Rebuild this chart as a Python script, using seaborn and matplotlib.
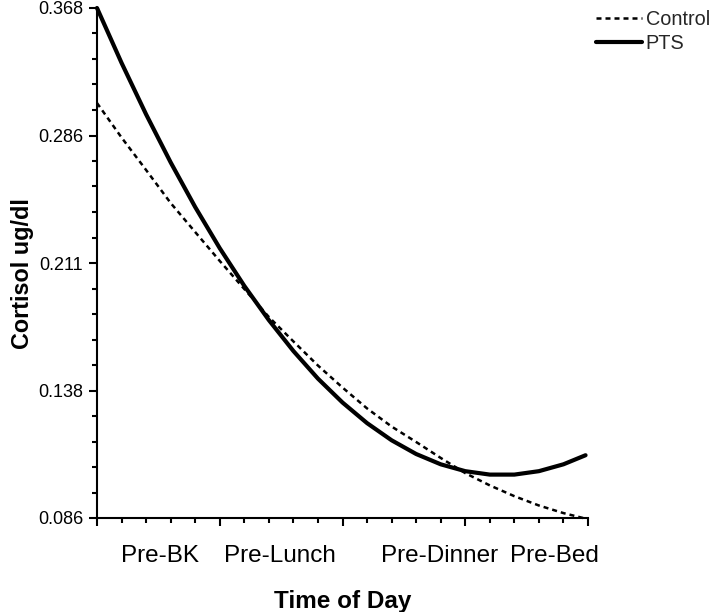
import numpy as np
import pandas as pd
import matplotlib
matplotlib.use("Agg")
import matplotlib.pyplot as plt
import seaborn as sns

# ---- data ----
y_ticks = [0.086, 0.138, 0.211, 0.286, 0.368]
categories = ["Pre-BK", "Pre-Lunch", "Pre-Dinner", "Pre-Bed"]
category_pos = [2.57, 7.45, 13.97, 18.65]

pts_time = [0, 1, 2, 3, 4, 5, 6, 7, 8, 9, 10, 11, 12, 13, 14, 15, 16, 17,
            18, 19, 19.9]
pts_cort = [0.368, 0.3327, 0.2996, 0.2702, 0.2439, 0.2197, 0.1979, 0.1783,
            0.1606, 0.1448, 0.1331, 0.1247, 0.1177, 0.1121, 0.1079, 0.1051,
            0.1037, 0.1037, 0.1051, 0.1079, 0.1116]

ctrl_time = [0, 1, 2, 3, 4, 5, 6, 7, 8, 9, 10, 11, 12, 13, 14, 15, 16, 17,
             18, 19, 19.8]
ctrl_cort = [0.3069, 0.2848, 0.2657, 0.2463, 0.2292, 0.2122, 0.1961, 0.1801,
             0.1661, 0.1523, 0.1397, 0.1307, 0.1233, 0.1170, 0.1105, 0.1043,
             0.0993, 0.0949, 0.0911, 0.0880, 0.086]

df_ctrl = pd.DataFrame({"time": ctrl_time, "cortisol": ctrl_cort})
df_pts = pd.DataFrame({"time": pts_time, "cortisol": pts_cort})

sns.set_theme(style="ticks")
plt.rcParams["font.family"] = ["Liberation Sans", "DejaVu Sans"]

fig = plt.figure(figsize=(7.2, 6.12), dpi=100)
ax = fig.add_axes([97/720, 1-518/612, (588-97)/720, (518-8)/612])

sns.lineplot(data=df_ctrl, x="time", y="cortisol", ax=ax, color="black",
             linewidth=1.8, linestyle=(0, (2.0, 1.6)), label="Control",
             clip_on=False)
sns.lineplot(data=df_pts, x="time", y="cortisol", ax=ax, color="black",
             linewidth=3.0, label="PTS", clip_on=False)

# y axis: tick values evenly spaced
pos = np.arange(len(y_ticks), dtype=float)
fwd = lambda v: np.interp(v, y_ticks, pos)
inv = lambda p: np.interp(p, pos, y_ticks)
ax.set_yscale("function", functions=(fwd, inv))
ax.set_ylim(y_ticks[0], y_ticks[-1])
ax.set_yticks(y_ticks)
ax.set_yticklabels([f"{t:.3f}" for t in y_ticks])
ax.set_yticks(inv(np.arange(0, 4.001, 0.2)), minor=True)

ax.set_xlim(0, 20)
ax.set_xticks(np.arange(0, 21, 5))
ax.set_xticklabels([])
ax.set_xticks(np.arange(0, 21, 1), minor=True)

for s in ["top", "right"]:
    ax.spines[s].set_visible(False)
for s in ["left", "bottom"]:
    ax.spines[s].set_linewidth(1.5)
    ax.spines[s].set_color("black")

ax.tick_params(which="major", length=6, width=1.5, direction="out",
               color="black", labelsize=13, pad=4, labelcolor="black")
ax.tick_params(which="minor", length=3.5, width=1.5, direction="out",
               color="black")

for name, xp in zip(categories, category_pos):
    ax.text(xp, -0.0863, name, transform=ax.get_xaxis_transform(),
            ha="center", va="baseline", fontsize=17.5, color="black")

ax.set_xlabel("Time of Day", fontsize=17.5, fontweight="bold", color="black")
ax.xaxis.set_label_coords(0.5, -0.141)
ax.set_ylabel("Cortisol ug/dl", fontsize=16.8, fontweight="bold", color="black")
ax.yaxis.set_label_coords(-0.128, 0.48)

ax.legend(loc="upper left", bbox_to_anchor=(596/720, 1-10/612),
          bbox_transform=fig.transFigure, frameon=False, fontsize=14.3,
          handlelength=2.3, handletextpad=0.2, labelspacing=0.25,
          borderpad=0, borderaxespad=0)

fig.savefig("out.png", dpi=100)
